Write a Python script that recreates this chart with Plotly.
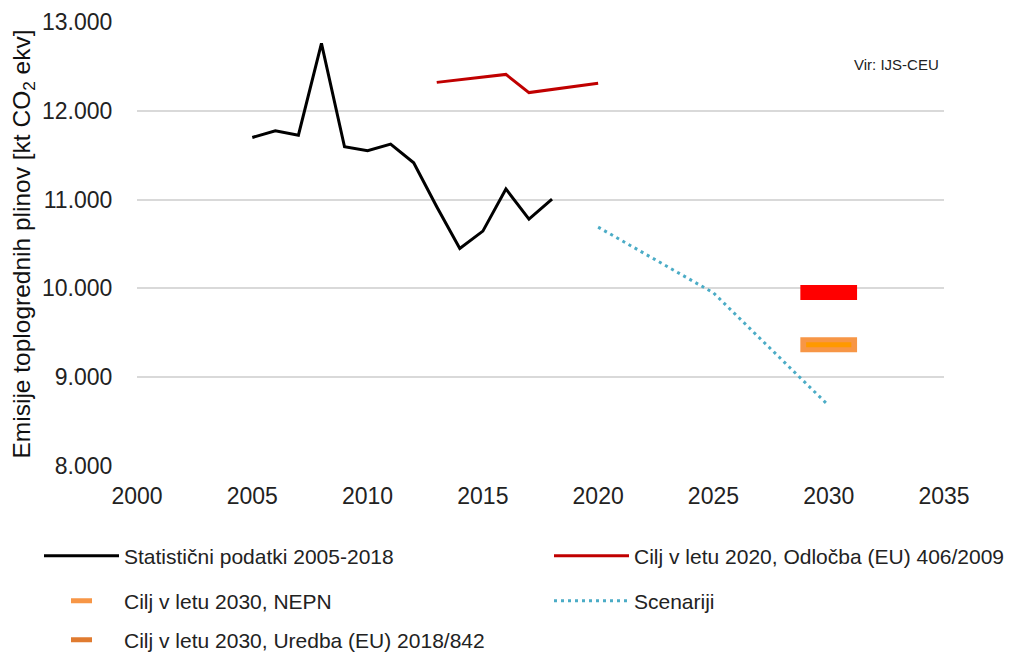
import plotly.graph_objects as go

# ---- data ----
stat_years = [2005, 2006, 2007, 2008, 2009, 2010, 2011, 2012, 2013, 2014, 2015, 2016, 2017, 2018]
stat_vals = [11700, 11775, 11725, 12760, 11595, 11550, 11625, 11415, 10920, 10450, 10645, 11120, 10780, 11005]

t2020_years = [2013, 2014, 2015, 2016, 2017, 2018, 2019, 2020]
t2020_vals = [12320, 12350, 12380, 12410, 12205, 12240, 12275, 12310]

scen_years = [2020, 2025, 2030]
scen_vals = [10690, 9950, 8680]

target_year = 2030
nepn_val = 9365
uredba_val = 9955

names = [
    "Statistični podatki 2005-2018",
    "Cilj v letu 2020, Odločba (EU) 406/2009",
    "Cilj v letu 2030, NEPN",
    "Scenariji",
    "Cilj v letu 2030, Uredba (EU) 2018/842",
]

y_ticks = [8000, 9000, 10000, 11000, 12000, 13000]
x_ticks = [2000, 2005, 2010, 2015, 2020, 2025, 2030, 2035]

# ---- style ----
FONT = "Liberation Sans, Arial, sans-serif"
BAR_HALF = 1.23  # half length of target bar in years
C_BLACK = "#000000"
C_RED = "#C00000"
C_SCEN = "#4BACC6"
C_NEPN = "#F79646"
C_NEPN_IN = "#FF9900"
C_UREDBA = "#FF0000"
C_LEG_UREDBA = "#E07B30"

L, R, T, B = 137, 68, 22, 186
W, H = 1012, 652
PW, PH = W - L - R, H - T - B


def px_x(p):
    return (p - L) / PW


def px_y(p):
    return (H - B - p) / PH


fig = go.Figure()

fig.add_trace(go.Scatter(x=stat_years, y=stat_vals, mode="lines", name=names[0],
                         line=dict(color=C_BLACK, width=3), legend="legend"))
fig.add_trace(go.Scatter(x=t2020_years, y=t2020_vals, mode="lines", name=names[1],
                         line=dict(color=C_RED, width=3), legend="legend2"))
fig.add_trace(go.Scatter(x=scen_years, y=scen_vals, mode="lines", name=names[3],
                         line=dict(color=C_SCEN, width=3, dash="3px,4px"), legend="legend4"))

# target bars
fig.add_trace(go.Scatter(x=[target_year - BAR_HALF, target_year + BAR_HALF], y=[uredba_val, uredba_val],
                         mode="lines", line=dict(color=C_UREDBA, width=15), showlegend=False,
                         hoverinfo="skip"))
fig.add_trace(go.Scatter(x=[target_year - BAR_HALF, target_year + BAR_HALF], y=[nepn_val, nepn_val],
                         mode="lines", line=dict(color=C_NEPN, width=15), showlegend=False,
                         hoverinfo="skip"))
fig.add_trace(go.Scatter(x=[target_year - BAR_HALF + 0.25, target_year + BAR_HALF - 0.25], y=[nepn_val, nepn_val],
                         mode="lines", line=dict(color=C_NEPN_IN, width=5), showlegend=False,
                         hoverinfo="skip"))

# legend entries for targets
fig.add_trace(go.Scatter(x=[None], y=[None], mode="markers", name=names[2], legend="legend3",
                         marker=dict(symbol="line-ew", size=15, color=C_NEPN,
                                     line=dict(width=6, color=C_NEPN))))
fig.add_trace(go.Scatter(x=[None], y=[None], mode="markers", name=names[4], legend="legend5",
                         marker=dict(symbol="line-ew", size=15, color=C_LEG_UREDBA,
                                     line=dict(width=6, color=C_LEG_UREDBA))))

leg_common = dict(orientation="h", xanchor="left", yanchor="middle", bgcolor="rgba(0,0,0,0)",
                  font=dict(family=FONT, size=21, color="#222222"), itemwidth=75,
                  itemclick=False, itemdoubleclick=False)
col1, col2 = px_x(39), px_x(549)
row1, row2, row3 = px_y(556), px_y(601), px_y(640)

fig.update_layout(
    width=W, height=H,
    margin=dict(l=L, r=R, t=T, b=B, autoexpand=False),
    paper_bgcolor="white", plot_bgcolor="white",
    separators=",.",
    font=dict(family=FONT, color="#222222"),
    xaxis=dict(range=[2000, 2035], tickvals=x_ticks, showgrid=False, zeroline=False,
               showline=False, ticks="outside", ticklen=9, tickcolor="rgba(0,0,0,0)",
               tickfont=dict(size=23, color="#222222"), fixedrange=True, automargin=False),
    yaxis=dict(range=[8000, 13000], tickvals=y_ticks, tickformat=",.0f", showgrid=True,
               gridcolor="#D9D9D9", gridwidth=2, zeroline=False, showline=False,
               ticks="outside", ticklen=19, tickcolor="rgba(0,0,0,0)",
               tickfont=dict(size=23, color="#222222"), fixedrange=True, automargin=False,
               title=dict(text="Emisije toplogrednih plinov [kt CO<sub>2</sub> ekv]",
                          font=dict(size=24.5, color="#111111"), standoff=4)),
    legend=dict(x=col1, y=row1, **leg_common),
    legend2=dict(x=col2, y=row1, **leg_common),
    legend3=dict(x=col1, y=row2, **leg_common),
    legend4=dict(x=col2, y=row2, **leg_common),
    legend5=dict(x=col1, y=row3, **leg_common),
    annotations=[dict(text="Vir: IJS-CEU", xref="paper", yref="paper", x=px_x(941), y=px_y(64),
                      xanchor="right", yanchor="middle", showarrow=False,
                      font=dict(family=FONT, size=15, color="#222222"))],
)

fig.write_html("out.html", config={"displayModeBar": False},
               post_script="document.body.style.margin='0';")
